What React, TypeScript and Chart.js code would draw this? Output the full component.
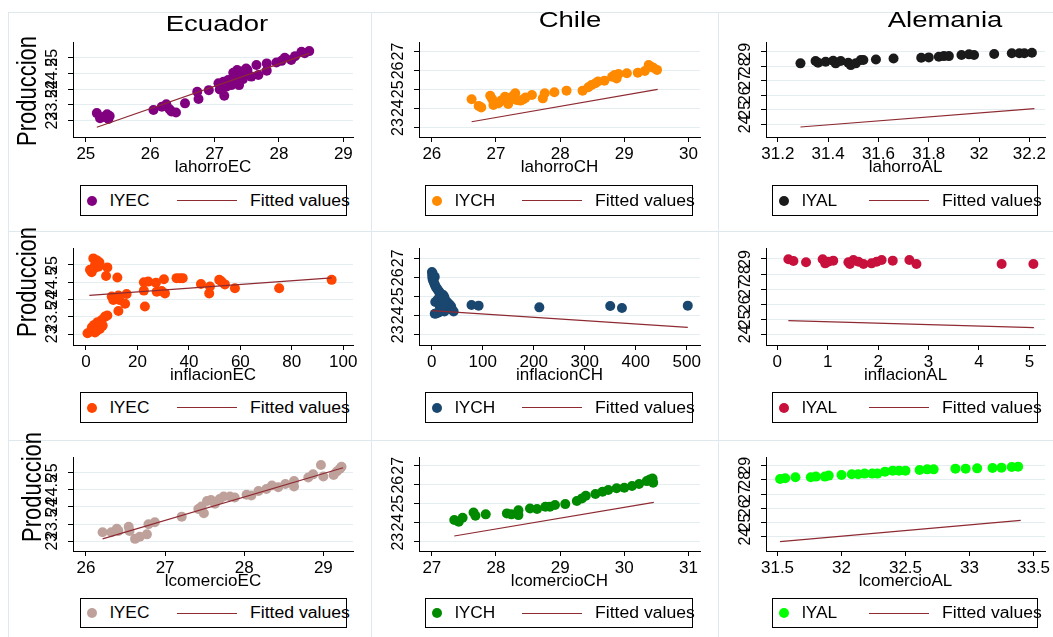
import { useEffect, useRef } from "react";
import { Chart, registerables } from "chart.js";

Chart.register(...registerables);

const FONT = '"Liberation Sans", Arial, Helvetica, sans-serif';
const FIT_COLOR = "#8e2a32";
const GRID_COLOR = "#e4edf0";
const FRAME_COLOR = "#dfe8ec";

// ---------------- DATA ----------------
const countries = ["Ecuador", "Chile", "Alemania"];
const seriesNames = ["lYEC", "lYCH", "lYAL"];
const fittedLabel = "Fitted values";
const yTitle = "Produccion";

// x-axis variables per row/column
const xNames = [
  ["lahorroEC", "lahorroCH", "lahorroAL"],
  ["inflacionEC", "inflacionCH", "inflacionAL"],
  ["lcomercioEC", "lcomercioCH", "lcomercioAL"],
];

// Row 1: savings
const ahorroEC: number[][] = [
  [25.17, 23.24], [25.22, 23.08], [25.28, 23.12], [25.33, 23.2], [25.35, 23.05], [25.37, 23.15],
  [26.05, 23.34], [26.18, 23.44], [26.25, 23.52], [26.3, 23.36], [26.33, 23.29], [26.4, 23.26],
  [26.54, 23.55], [26.73, 23.92], [26.75, 23.69], [26.91, 23.97], [27.06, 24.19], [27.08, 23.99],
  [27.11, 24.1], [27.15, 23.79], [27.14, 24.24], [27.18, 24.08], [27.21, 24.29], [27.26, 24.13],
  [27.29, 24.52], [27.31, 24.24], [27.34, 24.42], [27.35, 24.61], [27.38, 24.13], [27.41, 24.56],
  [27.44, 24.32], [27.46, 24.48], [27.49, 24.66], [27.51, 24.61], [27.57, 24.4], [27.65, 24.77],
  [27.68, 24.45], [27.81, 24.82], [27.81, 24.59], [27.96, 24.85], [28.04, 24.9], [28.09, 25.0],
  [28.19, 24.93], [28.25, 25.05], [28.35, 25.19], [28.4, 25.14], [28.47, 25.21],
];
const ahorroECFit: number[][] = [[25.17, 22.79], [28.47, 25.14]];

const ahorroCH: number[][] = [
  [26.62, 24.47], [26.73, 24.12], [26.77, 24.04], [26.91, 24.66], [26.94, 24.49], [26.96, 24.17],
  [27.04, 24.26], [27.08, 24.4], [27.14, 24.61], [27.19, 24.22], [27.22, 24.52], [27.27, 24.65],
  [27.3, 24.79], [27.32, 24.43], [27.38, 24.4], [27.43, 24.47], [27.46, 24.56], [27.56, 24.7],
  [27.73, 24.52], [27.76, 24.79], [27.91, 24.84], [28.1, 24.93], [28.35, 24.93], [28.44, 25.11],
  [28.49, 25.23], [28.55, 25.32], [28.59, 25.41], [28.69, 25.46], [28.81, 25.67], [28.85, 25.76],
  [28.88, 25.58], [28.91, 25.81], [29.04, 25.85], [29.21, 25.88], [29.32, 25.97], [29.38, 26.29],
  [29.42, 26.2], [29.45, 26.15], [29.51, 26.03],
];
const ahorroCHFit: number[][] = [[26.62, 23.28], [29.52, 25.0]];

const ahorroAL: number[][] = [
  [31.29, 28.2], [31.35, 28.36], [31.36, 28.24], [31.39, 28.31], [31.42, 28.38], [31.43, 28.2],
  [31.45, 28.36], [31.48, 28.24], [31.49, 28.08], [31.51, 28.2], [31.53, 28.43], [31.54, 28.43],
  [31.59, 28.47], [31.66, 28.54], [31.77, 28.59], [31.8, 28.61], [31.84, 28.66], [31.86, 28.7],
  [31.88, 28.7], [31.93, 28.77], [31.96, 28.82], [31.98, 28.77], [32.06, 28.84], [32.13, 28.89],
  [32.16, 28.89], [32.18, 28.89], [32.21, 28.93],
];
const ahorroALFit: number[][] = [[31.29, 23.82], [32.22, 25.08]];

// Row 2: inflation
const inflacionEC: number[][] = [
  [2.85, 25.19], [4.1, 25.14], [5.2, 25.08], [3.5, 25.0], [1.55, 24.86], [2.2, 24.79], [3.1, 24.9],
  [4.8, 24.95], [8.3, 24.93], [7.8, 24.68], [12.2, 24.64],
  [0.6, 23.03], [1.8, 23.08], [3.5, 23.05], [2.3, 23.2], [3.2, 23.27], [4.5, 23.35], [5.4, 23.15],
  [6.1, 23.41], [5.2, 23.3], [6.5, 23.25], [7.4, 23.51], [8.3, 23.54], [4.2, 23.1],
  [10.0, 24.09], [10.6, 23.99], [11.9, 24.04], [12.6, 24.12], [13.0, 23.99], [15.2, 23.88],
  [15.8, 24.16], [12.6, 23.67], [22.5, 24.5], [22.5, 24.26], [22.9, 23.8], [24.2, 24.52],
  [27.2, 24.49], [27.5, 24.23], [29.4, 24.25], [30.3, 24.59], [30.7, 24.18], [35.2, 24.62],
  [36.5, 24.62], [37.6, 24.62], [44.7, 24.45], [47.9, 24.18], [48.2, 24.38], [51.8, 24.57],
  [52.7, 24.52], [54.0, 24.44], [57.9, 24.33], [75.1, 24.33], [95.5, 24.57],
];
const inflacionECFit: number[][] = [[1.3, 24.12], [95.5, 24.63]];

const inflacionCH: number[][] = [
  [0.5, 26.28], [2, 26.2], [1, 26.1], [3.5, 26.05], [6, 26.02], [1.5, 25.95], [2.5, 25.85],
  [4, 25.75], [5.5, 25.65], [7, 25.55], [9, 25.45], [11, 25.38], [13, 25.3], [15, 25.22],
  [17, 25.15], [20, 25.1], [23, 25.05], [25, 24.95], [18, 24.9], [12, 24.85], [21, 24.8],
  [27, 24.78], [30, 24.7], [7, 24.7], [33, 24.62], [35, 24.55], [38, 24.48], [22, 24.55],
  [16, 24.45], [28, 24.4], [40, 24.3], [43, 24.2], [25, 24.2], [14, 24.15], [9, 24.1], [6, 24.08],
  [19, 24.25], [78, 24.54], [92, 24.51], [211, 24.42], [350, 24.49], [373, 24.39], [502, 24.51],
];
const inflacionCHFit: number[][] = [[0, 24.25], [502, 23.37]];

const inflacionAL: number[][] = [
  [0.22, 28.98], [0.32, 28.87], [0.57, 28.78], [0.9, 28.98], [0.95, 28.71], [1.01, 28.82],
  [1.11, 28.89], [1.41, 28.78], [1.44, 28.67], [1.51, 28.93], [1.61, 28.82], [1.71, 28.67],
  [1.87, 28.71], [1.97, 28.82], [2.07, 28.93], [2.29, 28.89], [2.62, 28.93], [2.76, 28.67],
  [4.45, 28.67], [5.08, 28.67],
];
const inflacionALFit: number[][] = [[0.22, 24.91], [5.09, 24.44]];

// Row 3: trade
const comercioEC: number[][] = [
  [26.21, 23.27], [26.32, 23.27], [26.39, 23.37], [26.41, 23.31], [26.54, 23.43], [26.55, 23.31],
  [26.62, 23.08], [26.68, 23.14], [26.77, 23.21], [26.79, 23.5], [26.87, 23.56], [27.21, 23.72],
  [27.42, 23.94], [27.46, 24.01], [27.49, 23.82], [27.53, 24.17], [27.58, 24.2], [27.63, 24.09],
  [27.69, 24.23], [27.74, 24.3], [27.82, 24.3], [27.88, 24.27], [28.03, 24.35], [28.09, 24.33],
  [28.18, 24.46], [28.28, 24.52], [28.35, 24.62], [28.43, 24.57], [28.52, 24.66], [28.63, 24.75],
  [28.63, 24.59], [28.81, 24.85], [28.87, 24.94], [28.97, 25.21], [29.0, 24.88], [29.13, 24.92],
  [29.17, 25.02], [29.21, 25.1], [29.23, 25.16],
];
const comercioECFit: number[][] = [[26.21, 23.08], [29.25, 25.13]];

const comercioCH: number[][] = [
  [27.35, 24.14], [27.42, 24.05], [27.48, 24.26], [27.65, 24.54], [27.68, 24.37], [27.84, 24.44],
  [28.17, 24.49], [28.24, 24.44], [28.35, 24.65], [28.35, 24.4], [28.53, 24.75], [28.64, 24.72],
  [28.77, 24.84], [28.84, 24.84], [28.92, 24.93], [29.08, 24.98], [29.26, 25.14], [29.34, 25.28],
  [29.4, 25.42], [29.55, 25.51], [29.66, 25.63], [29.75, 25.72], [29.88, 25.81], [30.0, 25.84],
  [30.12, 25.93], [30.23, 26.04], [30.35, 26.19], [30.4, 26.28], [30.45, 26.11], [30.44, 26.33],
];
const comercioCHFit: number[][] = [[27.35, 23.3], [30.46, 25.07]];

const comercioAL: number[][] = [
  [31.52, 28.06], [31.56, 28.11], [31.64, 28.18], [31.76, 28.18], [31.8, 28.23], [31.87, 28.23],
  [31.9, 28.3], [32.0, 28.34], [32.08, 28.39], [32.13, 28.39], [32.18, 28.44], [32.24, 28.44],
  [32.28, 28.44], [32.34, 28.58], [32.4, 28.65], [32.45, 28.65], [32.5, 28.65], [32.61, 28.69],
  [32.67, 28.74], [32.72, 28.74], [32.89, 28.79], [32.97, 28.79], [33.06, 28.81], [33.18, 28.84],
  [33.25, 28.86], [33.33, 28.91], [33.38, 28.93],
];
const comercioALFit: number[][] = [[31.52, 23.65], [33.4, 25.15]];

// Tick labels
const yTicksEC = [23, 23.5, 24, 24.5, 25];
const yTicksCH = [23, 24, 25, 26, 27];
const yTicksAL = [24, 25, 26, 27, 28, 29];
const xTicksAhorroEC = [25, 26, 27, 28, 29];
const xTicksAhorroCH = [26, 27, 28, 29, 30];
const xTicksAhorroAL = [31.2, 31.4, 31.6, 31.8, 32, 32.2];
const xTicksInflEC = [0, 20, 40, 60, 80, 100];
const xTicksInflCH = [0, 100, 200, 300, 400, 500];
const xTicksInflAL = [0, 1, 2, 3, 4, 5];
const xTicksComEC = [26, 27, 28, 29];
const xTicksComCH = [27, 28, 29, 30, 31];
const xTicksComAL = [31.5, 32, 32.5, 33, 33.5];

// Series colours
const colorsRow1 = ["#800080", "#ff8a00", "#1a1a1a"];
const colorsRow2 = ["#ff4500", "#1a476f", "#c8103c"];
const colorsRow3 = ["#bfa19b", "#008a00", "#00ff00"];

// ---------------- LAYOUT ----------------
const YW = 60; // y axis box width
const PAD_T = 20;
const PAD_R = 12;
const XH = 44; // x axis box height

const colPlotX = [
  [73, 353],
  [419, 700],
  [766, 1045],
];
const rowPlotY = [
  [42, 137],
  [248, 345],
  [457, 551],
];
const legendLeft = [80, 425, 772];
const legendWidth = [267, 268, 266];
const legendTop = [185, 392, 598];
const legendHeight = [31, 31, 30];

type PanelSpec = {
  row: number;
  col: number;
  pts: number[][];
  fit: number[][];
  xMin: number;
  xMax: number;
  yMin: number;
  yMax: number;
  xTicks: number[];
  yTicks: number[];
};

const panels: PanelSpec[] = [
  { row: 0, col: 0, pts: ahorroEC, fit: ahorroECFit, xMin: 24.8, xMax: 29.15, yMin: 22.48, yMax: 25.5, xTicks: xTicksAhorroEC, yTicks: yTicksEC },
  { row: 0, col: 1, pts: ahorroCH, fit: ahorroCHFit, xMin: 25.8, xMax: 30.18, yMin: 22.47, yMax: 27.51, xTicks: xTicksAhorroCH, yTicks: yTicksCH },
  { row: 0, col: 2, pts: ahorroAL, fit: ahorroALFit, xMin: 31.153, xMax: 32.262, yMin: 23.13, yMax: 29.67, xTicks: xTicksAhorroAL, yTicks: yTicksAL },
  { row: 1, col: 0, pts: inflacionEC, fit: inflacionECFit, xMin: -5.05, xMax: 103.8, yMin: 22.69, yMax: 25.49, xTicks: xTicksInflEC, yTicks: yTicksEC },
  { row: 1, col: 1, pts: inflacionCH, fit: inflacionCHFit, xMin: -24.9, xMax: 526, yMin: 22.44, yMax: 27.54, xTicks: xTicksInflCH, yTicks: yTicksCH },
  { row: 1, col: 2, pts: inflacionAL, fit: inflacionALFit, xMin: -0.224, xMax: 5.31, yMin: 23.29, yMax: 29.73, xTicks: xTicksInflAL, yTicks: yTicksAL },
  { row: 2, col: 0, pts: comercioEC, fit: comercioECFit, xMin: 25.836, xMax: 29.375, yMin: 22.73, yMax: 25.44, xTicks: xTicksComEC, yTicks: yTicksEC },
  { row: 2, col: 1, pts: comercioCH, fit: comercioCHFit, xMin: 26.8, xMax: 31.18, yMin: 22.51, yMax: 27.46, xTicks: xTicksComCH, yTicks: yTicksCH },
  { row: 2, col: 2, pts: comercioAL, fit: comercioALFit, xMin: 31.41, xMax: 33.59, yMin: 22.99, yMax: 29.61, xTicks: xTicksComAL, yTicks: yTicksAL },
];

const rowColors = [colorsRow1, colorsRow2, colorsRow3];

function Panel({ spec }: { spec: PanelSpec }) {
  const ref = useRef<HTMLCanvasElement | null>(null);
  const [L, R] = colPlotX[spec.col];
  const [T, B] = rowPlotY[spec.row];
  const W = YW + (R - L) + PAD_R;
  const H = PAD_T + (B - T) + XH;
  const color = rowColors[spec.row][spec.col];
  const yPad = spec.col === 0 ? 0 : 7;

  useEffect(() => {
    const canvas = ref.current;
    if (!canvas) return;
    const chart = new Chart(canvas, {
      type: "scatter",
      data: {
        datasets: [
          {
            type: "scatter",
            label: seriesNames[spec.col],
            data: spec.pts.map(([x, y]) => ({ x, y })),
            backgroundColor: color,
            borderColor: color,
            borderWidth: 0,
            pointRadius: 5,
            pointHoverRadius: 5,
            order: 1,
          },
          {
            type: "line",
            label: fittedLabel,
            data: spec.fit.map(([x, y]) => ({ x, y })),
            borderColor: FIT_COLOR,
            backgroundColor: FIT_COLOR,
            borderWidth: 1.2,
            pointRadius: 0,
            fill: false,
            tension: 0,
            order: 0,
          },
        ],
      },
      options: {
        responsive: false,
        animation: false,
        devicePixelRatio: 1,
        events: [],
        layout: { padding: { top: PAD_T, right: PAD_R, bottom: 0, left: 0 } },
        plugins: { legend: { display: false }, tooltip: { enabled: false }, title: { display: false } },
        scales: {
          x: {
            type: "linear",
            position: "bottom",
            min: spec.xMin,
            max: spec.xMax,
            afterBuildTicks: (s: any) => {
              s.ticks = spec.xTicks.map((v) => ({ value: v }));
            },
            afterFit: (s: any) => {
              s.height = XH;
            },
            ticks: {
              autoSkip: false,
              maxRotation: 0,
              minRotation: 0,
              padding: 2,
              color: "#000",
              font: { family: FONT, size: 17 },
              callback: (v: any) => String(v),
            },
            grid: { drawOnChartArea: false, drawTicks: true, tickLength: 5, tickColor: "#000", tickWidth: 1 },
            border: { display: true, color: "#000", width: 1 },
            title: {
              display: true,
              text: xNames[spec.row][spec.col],
              color: "#000",
              font: { family: FONT, size: 17 },
              padding: { top: 0, bottom: 3 },
            },
          },
          y: {
            type: "linear",
            position: "left",
            min: spec.yMin,
            max: spec.yMax,
            afterBuildTicks: (s: any) => {
              s.ticks = spec.yTicks.map((v) => ({ value: v }));
            },
            afterFit: (s: any) => {
              s.width = YW;
            },
            ticks: {
              autoSkip: false,
              minRotation: 90,
              maxRotation: 90,
              crossAlign: "center",
              padding: yPad,
              color: "#000",
              font: { family: FONT, size: 16 },
              callback: (v: any) => String(v),
            },
            grid: { color: GRID_COLOR, lineWidth: 1, drawTicks: true, tickLength: 5, tickColor: "#000", tickWidth: 1 },
            border: { display: true, color: "#000", width: 1 },
          },
        },
      },
    } as any);
    return () => chart.destroy();
  }, []);

  return (
    <canvas
      ref={ref}
      width={W}
      height={H}
      style={{ position: "absolute", left: L - YW, top: T - PAD_T, width: W, height: H }}
    />
  );
}

function Legend({ row, col }: { row: number; col: number }) {
  const color = rowColors[row][col];
  const h = legendHeight[row];
  const inner = h - 2;
  return (
    <div
      style={{
        position: "absolute",
        left: legendLeft[col],
        top: legendTop[row],
        width: legendWidth[col],
        height: h,
        border: "1px solid #000",
        boxSizing: "border-box",
      }}
    >
      <span
        style={{
          position: "absolute",
          left: 12 - 5 - 1,
          top: inner / 2 - 5,
          width: 10,
          height: 10,
          borderRadius: "50%",
          background: color,
        }}
      />
      <span
        style={{
          position: "absolute",
          left: 29,
          top: 0,
          lineHeight: `${inner}px`,
          fontSize: 16,
          whiteSpace: "nowrap",
          transform: "scaleX(1.08)",
          transformOrigin: "left center",
          color: "#000",
        }}
      >
        {seriesNames[col]}
      </span>
      <span
        style={{
          position: "absolute",
          left: 96,
          top: Math.round(inner / 2 - 0.5),
          width: 60,
          height: 1,
          background: FIT_COLOR,
        }}
      />
      <span
        style={{
          position: "absolute",
          left: 169,
          top: 0,
          lineHeight: `${inner}px`,
          fontSize: 16,
          whiteSpace: "nowrap",
          transform: "scaleX(1.1)",
          transformOrigin: "left center",
          color: "#000",
        }}
      >
        {fittedLabel}
      </span>
    </div>
  );
}

const titleCenters = [
  [216.5, 12.5],
  [569.5, 9],
  [945, 9],
];
const yTitleCenters = [
  [27, 91],
  [27, 281.5],
  [32, 486.5],
];
const frameX = [8, 371, 718];
const frameY = [12, 231, 440];

export default function App() {
  return (
    <div
      style={{
        position: "absolute",
        left: 0,
        top: 0,
        width: 1053,
        height: 637,
        background: "#ffffff",
        overflow: "hidden",
        fontFamily: FONT,
        color: "#000",
      }}
    >
      {frameX.map((x) => (
        <div key={"fx" + x} style={{ position: "absolute", left: x, top: 12, width: 1, height: 625, background: FRAME_COLOR }} />
      ))}
      {frameY.map((y) => (
        <div key={"fy" + y} style={{ position: "absolute", left: 8, top: y, width: 1045, height: 1, background: FRAME_COLOR }} />
      ))}
      {panels.map((p) => (
        <Panel key={`${p.row}-${p.col}`} spec={p} />
      ))}
      {panels.map((p) => (
        <Legend key={`lg-${p.row}-${p.col}`} row={p.row} col={p.col} />
      ))}
      {countries.map((c, i) => (
        <div
          key={c}
          style={{
            position: "absolute",
            left: titleCenters[i][0] - 100,
            top: titleCenters[i][1],
            width: 200,
            textAlign: "center",
            fontSize: 22,
            lineHeight: "22px",
            whiteSpace: "nowrap",
            transform: "scaleX(1.25)",
          }}
        >
          {c}
        </div>
      ))}
      {yTitleCenters.map(([cx, cy], i) => (
        <div
          key={"yt" + i}
          style={{
            position: "absolute",
            left: cx - 75,
            top: cy - 12,
            width: 150,
            height: 24,
            lineHeight: "24px",
            textAlign: "center",
            fontSize: 22,
            whiteSpace: "nowrap",
            transform: "scaleX(1.25) rotate(-90deg)",
          }}
        >
          {yTitle}
        </div>
      ))}
    </div>
  );
}
